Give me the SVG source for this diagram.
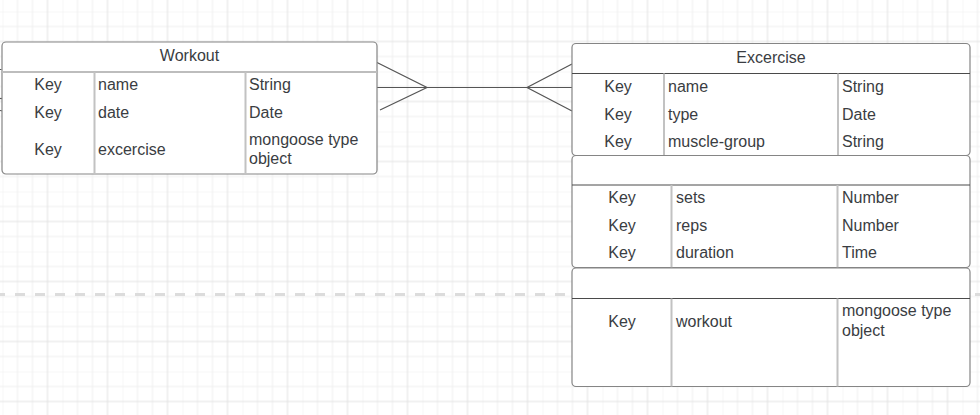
<svg xmlns="http://www.w3.org/2000/svg" width="980" height="415" viewBox="0 0 980 415">
<defs>
<pattern id="grid" patternUnits="userSpaceOnUse" x="2.5" y="11.5" width="60" height="60">
<path d="M0 0V60M15 0V60M30 0V60M0 0H60M0 15H60M0 45H60" stroke="#efefef" stroke-width="1" fill="none"/>
<path d="M45 0V60M0 30H60" stroke="#e2e2e2" stroke-width="1" fill="none"/>
</pattern>
<style>
.t{font-family:"Liberation Sans",Arial,sans-serif;font-size:16px;fill:#3a3d42}
.c{text-anchor:middle}
.box{fill:#fff;stroke:#858585;stroke-width:1.2}
.col{stroke:#c2c2c2;stroke-width:2;fill:none}
.hd{stroke:#4a4a4a;stroke-width:1;fill:none}
.hdl{stroke:#bdbdbd;stroke-width:2;fill:none}
.cn{stroke:#555;stroke-width:1.2;fill:none}
</style>
</defs>
<rect width="980" height="415" fill="#fff"/>
<rect width="980" height="415" fill="url(#grid)"/>
<line x1="-5" y1="294.5" x2="985" y2="294.5" stroke="#dcdcdc" stroke-width="3" stroke-dasharray="10 10"/>

<g id="connectors">
<path class="cn" d="M377 87.5H572"/>
<path class="cn" d="M377 62.5L427 87.5L380 110"/>
<path class="cn" d="M572 64L527 87.5L572 111"/>
<path class="cn" d="M0 110.5L8 112"/>
<path class="cn" d="M0 98.5H2.5"/>
<path class="cn" d="M0 69.5H1.5"/>
</g>

<g id="workout">
<rect class="box" x="2" y="42" width="375" height="132" rx="4"/>
<path class="hdl" d="M2 72H377"/>
<path class="col" d="M94.5 72V174M245.5 72V174"/>
<text class="t c" x="189.5" y="61">Workout</text>
<text class="t c" x="48" y="90">Key</text>
<text class="t" x="98" y="90">name</text>
<text class="t" x="249" y="90">String</text>
<text class="t c" x="48" y="117.5">Key</text>
<text class="t" x="98" y="117.5">date</text>
<text class="t" x="249" y="117.5">Date</text>
<text class="t c" x="48" y="155">Key</text>
<text class="t" x="98" y="155">excercise</text>
<text class="t" x="249" y="145">mongoose type</text>
<text class="t" x="249" y="164">object</text>
</g>

<g id="excercise">
<rect class="box" x="572" y="43.5" width="398" height="112" rx="4"/>
<path class="hd" d="M572 73.5H970"/>
<path class="col" d="M664 73.5V155.5M838 73.5V155.5"/>
<text class="t c" x="771" y="62.5">Excercise</text>
<text class="t c" x="618" y="91.5">Key</text>
<text class="t" x="668" y="91.5">name</text>
<text class="t" x="842" y="91.5">String</text>
<text class="t c" x="618" y="119.5">Key</text>
<text class="t" x="668" y="119.5">type</text>
<text class="t" x="842" y="119.5">Date</text>
<text class="t c" x="618" y="147.3">Key</text>
<text class="t" x="668" y="147.3">muscle-group</text>
<text class="t" x="842" y="147.3">String</text>
</g>

<g id="excercise-metrics">
<rect class="box" x="572" y="155.5" width="398" height="112" rx="4"/>
<path class="hd" d="M572 185H970"/>
<path class="col" d="M671.5 185V267.5M837.5 185V267.5"/>
<text class="t c" x="622" y="203.3">Key</text>
<text class="t" x="676" y="203.3">sets</text>
<text class="t" x="842" y="203.3">Number</text>
<text class="t c" x="622" y="231">Key</text>
<text class="t" x="676" y="231">reps</text>
<text class="t" x="842" y="231">Number</text>
<text class="t c" x="622" y="258.3">Key</text>
<text class="t" x="676" y="258.3">duration</text>
<text class="t" x="842" y="258.3">Time</text>
</g>

<g id="excercise-ref">
<rect class="box" x="572" y="268" width="398" height="118.5" rx="4"/>
<path class="hd" d="M572 298.5H970"/>
<path class="col" d="M671.5 298.5V386.5M837.5 298.5V386.5"/>
<text class="t c" x="622" y="326.5">Key</text>
<text class="t" x="676" y="326.5">workout</text>
<text class="t" x="842" y="316">mongoose type</text>
<text class="t" x="842" y="336">object</text>
</g>
</svg>
